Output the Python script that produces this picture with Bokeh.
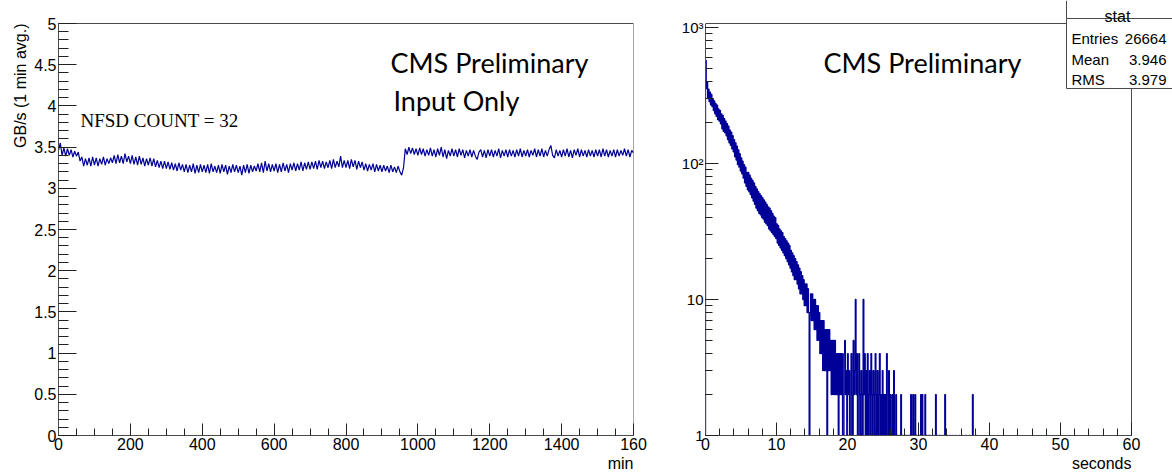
from bokeh.plotting import figure
from bokeh.models import (Range1d, SingleIntervalTicker, LogTicker, Label,
                          NumeralTickFormatter, Title)
from bokeh.layouts import row
from bokeh.embed import file_html
from bokeh.resources import INLINE

# ---------------- data ----------------
# left: input rate (GB/s, 1 min avg.) sampled every 5 minutes
rate_step_min = 5
rate_values = [
    3.46, 3.55, 3.40, 3.49, 3.39, 3.48, 3.40, 3.47, 3.38, 3.45,
    3.39, 3.44, 3.33, 3.38, 3.27, 3.36, 3.28, 3.37, 3.27, 3.38,
    3.28, 3.37, 3.27, 3.36, 3.29, 3.38, 3.28, 3.36, 3.30, 3.37,
    3.31, 3.40, 3.30, 3.41, 3.31, 3.39, 3.30, 3.42, 3.32, 3.39,
    3.30, 3.40, 3.29, 3.38, 3.28, 3.39, 3.29, 3.37, 3.27, 3.36,
    3.28, 3.37, 3.27, 3.36, 3.26, 3.34, 3.25, 3.33, 3.24, 3.33,
    3.24, 3.32, 3.23, 3.31, 3.22, 3.30, 3.21, 3.31, 3.22, 3.29,
    3.20, 3.29, 3.19, 3.28, 3.20, 3.30, 3.18, 3.28, 3.19, 3.29,
    3.20, 3.28, 3.19, 3.29, 3.18, 3.30, 3.20, 3.27, 3.19, 3.28,
    3.18, 3.29, 3.20, 3.28, 3.17, 3.27, 3.19, 3.29, 3.20, 3.28,
    3.19, 3.27, 3.16, 3.28, 3.19, 3.29, 3.18, 3.28, 3.20, 3.27,
    3.21, 3.30, 3.20, 3.31, 3.19, 3.33, 3.21, 3.30, 3.20, 3.29,
    3.21, 3.30, 3.19, 3.29, 3.20, 3.31, 3.21, 3.29, 3.19, 3.30,
    3.22, 3.31, 3.21, 3.30, 3.22, 3.32, 3.21, 3.31, 3.23, 3.32,
    3.23, 3.32, 3.24, 3.33, 3.23, 3.34, 3.25, 3.33, 3.24, 3.32,
    3.25, 3.34, 3.24, 3.35, 3.25, 3.33, 3.26, 3.39, 3.25, 3.34,
    3.25, 3.34, 3.24, 3.35, 3.26, 3.34, 3.23, 3.33, 3.25, 3.32,
    3.22, 3.30, 3.21, 3.29, 3.22, 3.30, 3.20, 3.29, 3.21, 3.28,
    3.20, 3.28, 3.21, 3.27, 3.19, 3.28, 3.20, 3.26, 3.19, 3.27,
    3.20, 3.16, 3.25, 3.48, 3.41, 3.50, 3.42, 3.49, 3.41, 3.48,
    3.40, 3.49, 3.41, 3.48, 3.39, 3.47, 3.40, 3.49, 3.39, 3.47,
    3.38, 3.48, 3.40, 3.50, 3.38, 3.47, 3.36, 3.46, 3.39, 3.48,
    3.39, 3.47, 3.38, 3.48, 3.40, 3.47, 3.37, 3.46, 3.39, 3.47,
    3.38, 3.46, 3.39, 3.35, 3.44, 3.47, 3.38, 3.46, 3.37, 3.47,
    3.39, 3.47, 3.38, 3.46, 3.39, 3.48, 3.37, 3.46, 3.39, 3.47,
    3.38, 3.47, 3.39, 3.46, 3.38, 3.47, 3.39, 3.48, 3.38, 3.46,
    3.39, 3.47, 3.38, 3.46, 3.40, 3.48, 3.38, 3.47, 3.39, 3.48,
    3.38, 3.46, 3.39, 3.47, 3.52, 3.40, 3.37, 3.47, 3.39, 3.46,
    3.38, 3.47, 3.39, 3.48, 3.38, 3.46, 3.37, 3.47, 3.40, 3.48,
    3.38, 3.47, 3.39, 3.46, 3.38, 3.47, 3.39, 3.46, 3.38, 3.47,
    3.39, 3.47, 3.38, 3.48, 3.39, 3.47, 3.38, 3.46, 3.39, 3.47,
    3.38, 3.47, 3.39, 3.46, 3.40, 3.48, 3.39, 3.47, 3.38, 3.46,
    3.43,
]
rate_minutes = [i * rate_step_min for i in range(len(rate_values))]

# right: histogram of seconds, 0.1 s bins from 0 to 40 s
hist_bin = 0.1
hist_counts = [
    572, 355, 398, 300, 352, 285, 335, 270, 322, 262,
    300, 245, 288, 232, 275, 222, 268, 210, 252, 205,
    246, 196, 232, 180, 226, 172, 214, 168, 205, 160,
    196, 150, 188, 142, 176, 136, 170, 128, 160, 122,
    150, 112, 142, 106, 134, 98, 126, 94, 118, 88,
    110, 84, 104, 78, 98, 72, 94, 68, 86, 64,
    86, 62, 82, 59, 78, 56, 75, 53, 72, 50,
    68, 47, 65, 45, 62, 43, 60, 42, 58, 40,
    56, 39, 54, 37, 52, 36, 50, 35, 48, 33,
    47, 32, 45, 31, 43, 30, 41, 29, 40, 28,
    36, 26, 35, 25, 33, 24, 32, 23, 31, 22,
    29, 21, 28, 20, 27, 19, 26, 18, 25, 17,
    23, 16, 22, 15, 21, 14, 20, 14, 19, 13,
    18, 12, 17, 11, 16, 11, 15, 10, 14, 9,
    13, 9, 13, 8, 12, 8, 0, 8, 11, 7,
    11, 7, 10, 6, 10, 6, 9, 5, 9, 5,
    8, 4, 7, 4, 7, 3, 7, 3, 6, 3,
    6, 0, 6, 3, 6, 3, 5, 2, 5, 2,
    5, 2, 5, 2, 4, 2, 4, 0, 4, 2,
    4, 2, 4, 1, 0, 4, 5, 2, 3, 1,
    4, 2, 3, 1, 0, 4, 2, 1, 5, 2,
    3, 10, 2, 4, 1, 0, 4, 2, 1, 3,
    2, 1, 10, 2, 4, 0, 3, 1, 4, 1,
    2, 3, 0, 4, 2, 1, 3, 2, 0, 4,
    2, 1, 3, 0, 2, 4, 1, 2, 0, 3,
    1, 2, 0, 2, 1, 4, 0, 1, 3, 0,
    2, 1, 0, 2, 1, 3, 0, 1, 2, 0,
    1, 0, 1, 0, 1, 2, 1, 0, 1, 0,
    0, 1, 0, 1, 0, 1, 0, 1, 0, 2,
    1, 0, 2, 0, 1, 2, 0, 1, 0, 1,
    1, 0, 1, 2, 0, 2, 1, 0, 1, 2,
    0, 1, 0, 0, 1, 0, 1, 0, 0, 1,
    1, 0, 0, 1, 2, 0, 1, 0, 0, 1,
    0, 1, 0, 0, 1, 0, 0, 2, 0, 0,
    1, 0, 0, 0, 1, 0, 0, 0, 1, 0,
    0, 0, 1, 0, 0, 0, 0, 1, 0, 0,
    0, 1, 0, 0, 0, 0, 1, 0, 0, 0,
    0, 0, 1, 0, 0, 0, 2, 0, 0, 0,
    0, 1, 0, 0, 0, 0, 0, 0, 0, 0,
    0, 0, 0, 0, 0, 0, 0, 0, 0, 0,
]

stat_rows = [("Entries", "26664"), ("Mean", "3.946"), ("RMS", "3.979")]
left_x_ticks_override = {1600: "160"}
log_tick_labels = {1: "1", 10: "10", 100: "10\u00b2", 1000: "10\u00b3"}

# ---------------- styles ----------------
LINE_COL = "#000099"
AX_COL = "#4a4a4a"
TICK_FONT = "Liberation Sans"
TITLE_FONT = "Liberation Sans"
CMS_FONT = "Lato"

# ---------------- geometry helpers (picture pixels -> data) ----------------
L_X0, L_X1, L_Y0, L_Y1 = 58, 633, 435, 23


def lx(px):
    return (px - L_X0) / (L_X1 - L_X0) * 1600


def ly(py):
    return (L_Y0 - py) / (L_Y0 - L_Y1) * 5


R_X0, R_PPU, R_Y0, R_PPD = 705, 7.1, 435, 136.0
R_RIGHT = 1172


def rx(px):
    return (px - R_X0) / R_PPU


def ry(py):
    return 10 ** ((R_Y0 - py) / R_PPD)


def style_axis(ax, major_in, minor_in, size="16px"):
    ax.axis_line_color = AX_COL
    ax.major_tick_line_color = "#222222"
    ax.minor_tick_line_color = "#222222"
    ax.major_tick_in = major_in
    ax.major_tick_out = 0
    ax.minor_tick_in = minor_in
    ax.minor_tick_out = 0
    ax.major_label_text_font = TICK_FONT
    ax.major_label_text_font_size = size
    ax.major_label_text_color = "black"
    ax.major_label_standoff = 2


def side_title(text, offset, standoff):
    return Title(text=text, align="right", offset=offset, standoff=standoff,
                 text_font=TITLE_FONT, text_font_size="16px",
                 text_font_style="normal", text_color="black")


# ---------------- left plot ----------------
# frame spans the full height above the x axis; ROOT frame edges drawn as segments
p1 = figure(width=668, height=472, x_range=Range1d(0, 1600), y_range=Range1d(0, ly(0)),
            output_backend="svg", toolbar_location=None,
            min_border_left=58, min_border_right=35, min_border_top=0, min_border_bottom=37)
p1.grid.visible = False
p1.outline_line_color = None
p1.background_fill_color = "white"
p1.border_fill_color = "white"
p1.xaxis.ticker = SingleIntervalTicker(interval=200, num_minor_ticks=4)
p1.yaxis.ticker = SingleIntervalTicker(interval=0.5, num_minor_ticks=5)
p1.yaxis.bounds = (0, 5)
p1.yaxis.formatter = NumeralTickFormatter(format="0.[0]")
p1.xaxis.major_label_overrides = left_x_ticks_override
style_axis(p1.xaxis[0], 12, 7)
style_axis(p1.yaxis[0], 18, 10)
p1.add_layout(side_title("min", 0, 0), "below")
p1.add_layout(side_title("GB/s (1 min avg.)", 23, 5), "left")

p1.segment(x0=[0, 1600], y0=[5, 0], x1=[1600, 1600], y1=[5, 5],
           line_color=AX_COL, line_width=1)
p1.line(rate_minutes, rate_values, line_color=LINE_COL, line_width=1.2)

p1.add_layout(Label(x=lx(80), y=ly(120), text="NFSD COUNT = 32", text_baseline="alphabetic",
                    text_font="Liberation Serif", text_font_size="19px", text_color="black"))
p1.add_layout(Label(x=lx(390), y=ly(62), text="CMS Preliminary", text_baseline="alphabetic",
                    text_font=CMS_FONT, text_font_size="27px", text_color="black"))
p1.add_layout(Label(x=lx(393), y=ly(100), text="Input Only", text_baseline="alphabetic",
                    text_font=CMS_FONT, text_font_size="27px", text_color="black"))

# ---------------- right plot ----------------
p2 = figure(width=504, height=472, x_range=Range1d(0, rx(R_RIGHT)), y_range=Range1d(1, ry(0)),
            y_axis_type="log", output_backend="svg", toolbar_location=None,
            min_border_left=37, min_border_right=0, min_border_top=0, min_border_bottom=37)
p2.grid.visible = False
p2.outline_line_color = None
p2.background_fill_color = "white"
p2.border_fill_color = "white"
p2.xaxis.ticker = SingleIntervalTicker(interval=10, num_minor_ticks=5)
p2.xaxis.bounds = (0, 60)
p2.yaxis.ticker = LogTicker(num_minor_ticks=10)
p2.yaxis.bounds = (1, ry(23))
p2.yaxis.major_label_overrides = log_tick_labels
style_axis(p2.xaxis[0], 13, 7)
style_axis(p2.yaxis[0], 13, 7, size="15px")
p2.add_layout(side_title("seconds", R_RIGHT - 1131, 0), "below")

FLOOR = 0.05  # zero-count bins drawn below the visible log range
hx, hy = [0.0], [FLOOR]
for i, c in enumerate(hist_counts):
    v = c if c > 0 else FLOOR
    hx += [i * hist_bin, (i + 1) * hist_bin]
    hy += [v, v]
hx.append(len(hist_counts) * hist_bin)
hy.append(FLOOR)
p2.line(hx, hy, line_color=LINE_COL, line_width=1.3)

# frame top and right edges (ROOT style frame)
p2.segment(x0=[0, 60], y0=[ry(23), 1], x1=[rx(1066), 60], y1=[ry(23), ry(88)],
           line_color=AX_COL, line_width=1)

# stat box
p2.quad(left=rx(1066), right=rx(R_RIGHT), top=ry(0), bottom=ry(88),
        fill_color="white", line_color=None)
p2.segment(x0=[rx(1066), rx(1066), rx(1066)],
           y0=[ry(18), ry(88), ry(0)],
           x1=[rx(R_RIGHT), rx(R_RIGHT), rx(1066)],
           y1=[ry(18), ry(88), ry(88)],
           line_color=AX_COL, line_width=1)
p2.add_layout(Label(x=rx(1117), y=ry(15.5), text="stat", text_align="center",
                    text_baseline="alphabetic", text_font=TITLE_FONT,
                    text_font_size="16px", text_color="black"))
for (name, val), cy in zip(stat_rows, [38, 59, 79]):
    p2.add_layout(Label(x=rx(1071), y=ry(cy), text=name, text_align="left",
                        text_baseline="middle", text_font=TITLE_FONT,
                        text_font_size="15px", text_color="black"))
    p2.add_layout(Label(x=rx(1166), y=ry(cy), text=val, text_align="right",
                        text_baseline="middle", text_font=TITLE_FONT,
                        text_font_size="15px", text_color="black"))

p2.add_layout(Label(x=rx(823), y=ry(62), text="CMS Preliminary", text_baseline="alphabetic",
                    text_font=CMS_FONT, text_font_size="27px", text_color="black"))

layout = row(p1, p2)
open("out.html", "w").write(file_html(layout, INLINE))
